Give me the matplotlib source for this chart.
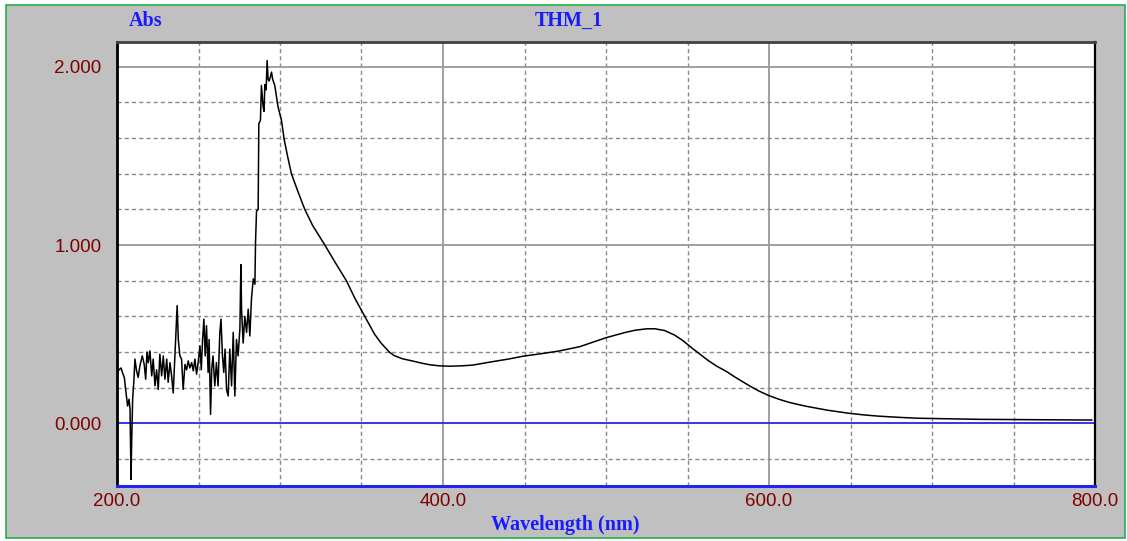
import matplotlib
matplotlib.use("Agg")
import matplotlib.pyplot as plt
from matplotlib.patches import Rectangle

# ---------------- data ----------------
wavelength = [
    200.0, 201.2, 202.5, 203.3, 204.5, 205.3, 206.5, 207.4, 208.0, 208.6, 209.0, 209.6,
    210.4, 211.0, 212.0, 213.0, 214.0, 215.5, 216.7, 217.6, 218.4, 219.2, 220.2, 221.3,
    222.2, 223.3, 224.3, 225.3, 226.3, 227.4, 228.4, 229.4, 230.5, 231.4, 232.5, 233.5,
    234.5, 235.5, 236.2, 236.9, 237.6, 238.6, 239.6, 240.6, 241.7, 242.7, 243.7, 244.7,
    245.8, 246.8, 247.8, 248.8, 249.8, 250.9, 251.7, 252.5, 253.3, 254.1, 254.9, 255.9,
    256.5, 257.4, 258.1, 258.9, 260.0, 261.0, 262.0, 263.1, 263.8, 264.7, 265.5, 266.3,
    267.2, 268.2, 269.2, 270.3, 271.3, 272.3, 273.3, 274.3, 275.4, 276.0, 276.4, 277.4,
    278.4, 279.5, 280.5, 281.5, 282.5, 283.6, 284.6, 285.0, 285.6, 286.6, 287.0, 288.0,
    288.6, 289.6, 290.2, 290.7, 291.5, 292.1, 292.7, 293.3, 294.0, 294.8, 295.5, 296.8,
    298.8, 300.9, 302.5, 304.6, 307.0, 311.0, 315.2, 320.0, 327.5, 334.0, 340.7, 346.0,
    352.0, 358.0, 362.0, 367.0, 370.0, 375.0, 381.0, 387.0, 392.0, 398.0, 404.0, 411.0,
    418.0, 430.0, 440.0, 449.0, 460.0, 471.0, 484.0, 492.0, 500.0, 506.0, 512.0, 518.0,
    525.0, 530.0, 536.0, 542.0, 547.0, 553.0, 558.0, 563.0, 568.0, 574.0, 579.0, 584.0,
    589.0, 594.0, 600.0, 606.0, 612.0, 618.0, 623.0, 630.0, 636.0, 643.0, 649.0, 658.0,
    667.0, 680.0, 692.0, 710.0, 729.0, 760.0, 798.0,
]
absorbance = [
    0.275, 0.30, 0.31, 0.285, 0.257, 0.19, 0.097, 0.135, 0.079, -0.315, -0.107, 0.135,
    0.247, 0.36, 0.294, 0.257, 0.32, 0.378, 0.33, 0.247, 0.40, 0.34, 0.406, 0.266,
    0.36, 0.21, 0.30, 0.19, 0.388, 0.266, 0.378, 0.247, 0.36, 0.23, 0.34, 0.266,
    0.17, 0.378, 0.51, 0.66, 0.47, 0.378, 0.36, 0.19, 0.33, 0.30, 0.35, 0.31,
    0.34, 0.294, 0.36, 0.275, 0.34, 0.434, 0.30, 0.47, 0.584, 0.378, 0.547, 0.285,
    0.47, 0.05, 0.30, 0.378, 0.21, 0.34, 0.21, 0.51, 0.584, 0.378, 0.285, 0.416,
    0.19, 0.153, 0.416, 0.21, 0.51, 0.153, 0.47, 0.378, 0.53, 0.89, 0.64, 0.45,
    0.60, 0.51, 0.64, 0.49, 0.70, 0.81, 0.78, 1.02, 1.19, 1.20, 1.68, 1.70,
    1.895, 1.78, 1.75, 1.90, 1.87, 2.035, 1.93, 1.92, 1.94, 1.97, 1.93, 1.895,
    1.775, 1.70, 1.595, 1.50, 1.40, 1.30, 1.20, 1.11, 1.00, 0.90, 0.80, 0.70,
    0.60, 0.50, 0.45, 0.40, 0.38, 0.362, 0.35, 0.337, 0.328, 0.322, 0.32, 0.322,
    0.326, 0.345, 0.36, 0.376, 0.39, 0.405, 0.43, 0.455, 0.48, 0.495, 0.51, 0.522,
    0.53, 0.53, 0.52, 0.495, 0.465, 0.42, 0.385, 0.35, 0.32, 0.29, 0.26, 0.232,
    0.205, 0.18, 0.155, 0.135, 0.118, 0.105, 0.095, 0.083, 0.073, 0.064, 0.056, 0.047,
    0.04, 0.033, 0.028, 0.025, 0.022, 0.02, 0.018,
]

x_major = [200, 400, 600, 800]
x_major_labels = ["200.0", "400.0", "600.0", "800.0"]
x_minor = [250, 300, 350, 450, 500, 550, 650, 700, 750]
y_major = [0.0, 1.0, 2.0]
y_major_labels = ["0.000", "1.000", "2.000"]
y_minor = [-0.2, 0.2, 0.4, 0.6, 0.8, 1.2, 1.4, 1.6, 1.8]

title_text = "THM_1"
ylabel_text = "Abs"
xlabel_text = "Wavelength (nm)"

# ---------------- style ----------------
W, H = 1127, 541
fig = plt.figure(figsize=(W / 100, H / 100), dpi=100)
fig.patch.set_facecolor("white")

# gray panel with green border
panel = Rectangle((6 / W, 3 / H), 1119 / W, 533 / H, transform=fig.transFigure,
                  facecolor="#c0c0c0", edgecolor="#22b04b", linewidth=1.2, zorder=-5)
fig.patches.append(panel)

ax = fig.add_axes([117 / W, 55 / H, 978 / W, 444 / H])
ax.set_zorder(2)
ax.set_facecolor("white")
ax.set_xlim(200, 800)
ax.set_ylim(-0.352, 2.139)

grid_gray = "#8a8a8a"
dash = (0, (3.0, 2.2))
for xv in x_minor:
    ax.axvline(xv, color=grid_gray, lw=1.0, linestyle=dash, zorder=1)
for xv in x_major[1:-1]:
    ax.axvline(xv, color="#999999", lw=1.3, zorder=1)
for yv in y_minor:
    ax.axhline(yv, color=grid_gray, lw=1.0, linestyle=dash, zorder=1)
for yv in y_major[1:]:
    ax.axhline(yv, color="#999999", lw=1.3, zorder=1)
ax.axhline(0.0, color="#2424f0", lw=1.3, zorder=2)

ax.plot(wavelength, absorbance, color="black", lw=1.1, zorder=3)

ax.set_xticks(x_major)
ax.set_xticklabels(x_major_labels)
ax.set_yticks(y_major)
ax.set_yticklabels(y_major_labels)
ax.tick_params(length=0, labelcolor="#800000", labelsize=13.5)
ax.tick_params(axis="x", pad=5)
ax.tick_params(axis="y", pad=11)
for lab in ax.get_xticklabels() + ax.get_yticklabels():
    lab.set_family("Liberation Sans")

ax.spines["top"].set_color("#404040")
ax.spines["top"].set_linewidth(2.0)
ax.spines["left"].set_color("black")
ax.spines["left"].set_linewidth(2.0)
ax.spines["right"].set_color("black")
ax.spines["right"].set_linewidth(1.6)
ax.spines["bottom"].set_color("#2424f0")
ax.spines["bottom"].set_linewidth(2.2)

serif = dict(family="Liberation Serif", fontweight="bold", color="#1a1aff", fontsize=14.5)
fig.text(146 / W, 1 - 21 / H, ylabel_text, ha="center", va="center", **serif)
fig.text(568.5 / W, 1 - 21 / H, title_text, ha="center", va="center", **serif)
fig.text(565 / W, 1 - 525 / H, xlabel_text, ha="center", va="center", **serif)

fig.savefig("out.png", dpi=100)
